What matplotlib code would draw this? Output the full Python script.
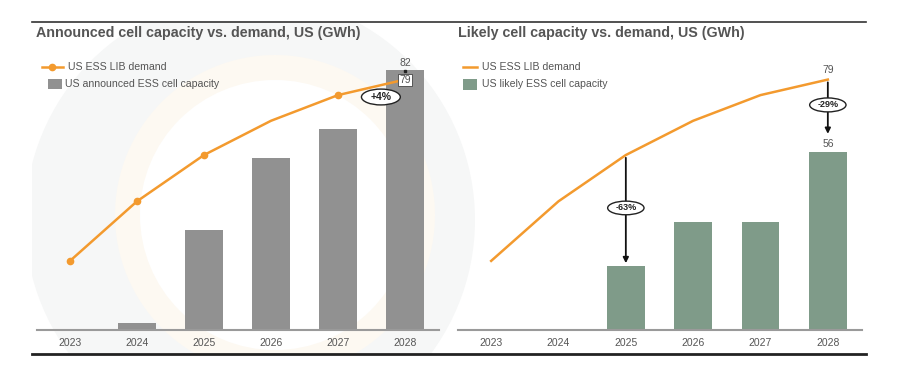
import matplotlib
matplotlib.use('Agg')
import matplotlib.pyplot as plt
from matplotlib.patches import Circle, Ellipse
from matplotlib.lines import Line2D

years = ['2023', '2024', '2025', '2026', '2027', '2028']
demand = [21.8, 40.6, 55.2, 66.0, 74.1, 79]
announced = [0.4, 2.2, 31.5, 54.2, 63.4, 82]
likely = [0.3, 0.3, 20.2, 34.2, 34.2, 56]

ORANGE = '#f39a2e'
GREY_BAR = '#919191'
GREEN_BAR = '#7f9b89'
TXT = '#555555'

plt.rcParams['font.family'] = ['Liberation Sans', 'DejaVu Sans']

fig = plt.figure(figsize=(9.11, 3.84), dpi=100)
W, H = 911, 384

# faint watermark circles behind the left panel
bg = fig.add_axes([0, 0, 1, 1], zorder=0)
bg.set_xlim(0, W)
bg.set_ylim(H, 0)
bg.axis('off')
bg.add_patch(Circle((250, 220), 225, color='#f6f7f7', lw=0))
bg.add_patch(Circle((275, 215), 160, color='#fdf9f2', lw=0))
bg.add_patch(Circle((275, 215), 135, color='white', lw=0))
bg.add_patch(plt.Rectangle((0, 0), 32, H, color='white', lw=0))
bg.add_patch(plt.Rectangle((866, 0), 50, H, color='white', lw=0))
bg.add_patch(plt.Rectangle((0, 355), W, 40, color='white', lw=0))
bg.add_patch(plt.Rectangle((0, 0), W, 21, color='white', lw=0))

# frame lines top and bottom
fig.add_artist(Line2D([32 / W, 866 / W], [1 - 21.5 / H, 1 - 21.5 / H], color='#333333', lw=1.2))
fig.add_artist(Line2D([32 / W, 866 / W], [1 - 354 / H, 1 - 354 / H], color='#222222', lw=2.0))

x = list(range(len(years)))
bottom = (H - 330) / H
height = 280 / H
ymax = 280 / 3.17


def setup(ax, title):
    ax.set_xlim(-0.5, 5.5)
    ax.set_ylim(0, ymax)
    for s in ['top', 'right', 'left']:
        ax.spines[s].set_visible(False)
    ax.spines['bottom'].set_color('#9a9a9a')
    ax.spines['bottom'].set_linewidth(1.5)
    ax.set_yticks([])
    ax.set_xticks(x)
    ax.set_xticklabels(years, fontsize=7.5, color=TXT)
    ax.tick_params(axis='x', length=0, pad=6)
    ax.patch.set_alpha(0)
    ax.text(0.0, 1.06, title, transform=ax.transAxes, fontsize=10.25,
            fontweight='bold', color=TXT, va='center', ha='left')


# left panel
ax1 = fig.add_axes([36.5 / W, bottom, 402 / W, height], zorder=2)
setup(ax1, 'Announced cell capacity vs. demand, US (GWh)')
ax1.bar(x, announced, width=0.56, color=GREY_BAR, zorder=2)
mk = [0, 1, 2, 4]
ax1.plot(x, demand, color=ORANGE, lw=1.8, zorder=3)
ax1.plot([x[i] for i in mk], [demand[i] for i in mk], 'o', color=ORANGE, ms=4.5, zorder=3)
ax1.text(5, announced[5] + 0.8, '82', ha='center', va='bottom', fontsize=7.5, color=TXT)
ax1.plot([5], [announced[5] - 0.3], 's', color='#222222', ms=1.5, zorder=4)
ax1.text(5, demand[5] - 0.2, '79', ha='center', va='center', fontsize=7.5, color=TXT, zorder=5,
         bbox=dict(boxstyle='square,pad=0.12', fc='white', ec='#444444', lw=0.6))
ax1.add_patch(Ellipse((4.64, 73.5), 0.58, 5.0, fc='white', ec='#222222', lw=1.0, zorder=5))
ax1.text(4.64, 73.5, '+4%', ha='center', va='center', fontsize=7.5, fontweight='bold',
         color='#222222', zorder=6)

# legend left
ax1.plot([-0.42, -0.11], [83, 83], color=ORANGE, lw=1.8)
ax1.plot([-0.265], [83], 'o', color=ORANGE, ms=4.5)
ax1.text(-0.03, 83, 'US ESS LIB demand', fontsize=7.6, color=TXT, va='center')
ax1.add_patch(plt.Rectangle((-0.33, 76.0), 0.21, 3.2, color=GREY_BAR, lw=0))
ax1.text(-0.07, 77.6, 'US announced ESS cell capacity', fontsize=7.6, color=TXT, va='center')

# right panel
ax2 = fig.add_axes([457.5 / W, bottom, 404 / W, height], zorder=2)
setup(ax2, 'Likely cell capacity vs. demand, US (GWh)')
ax2.bar(x, likely, width=0.56, color=GREEN_BAR, zorder=2)
ax2.plot(x, demand, color=ORANGE, lw=1.8, zorder=3)
ax2.text(5, demand[5] + 1.5, '79', ha='center', va='bottom', fontsize=7.5, color=TXT)
ax2.text(5, likely[5] + 1.2, '56', ha='center', va='bottom', fontsize=7.5, color=TXT)
ax2.annotate('', xy=(5, likely[5] + 5.0), xytext=(5, demand[5]),
             arrowprops=dict(arrowstyle='-|>', color='#111111', lw=1.3, mutation_scale=8), zorder=4)
ax2.annotate('', xy=(2, likely[2]), xytext=(2, demand[2]),
             arrowprops=dict(arrowstyle='-|>', color='#111111', lw=1.3, mutation_scale=8), zorder=4)
ax2.add_patch(Ellipse((5, 71), 0.54, 4.4, fc='white', ec='#222222', lw=1.0, zorder=5))
ax2.text(5, 71, '-29%', ha='center', va='center', fontsize=6.5, fontweight='bold',
         color='#222222', zorder=6)
ax2.add_patch(Ellipse((2, 38.5), 0.54, 4.3, fc='white', ec='#222222', lw=1.0, zorder=5))
ax2.text(2, 38.5, '-63%', ha='center', va='center', fontsize=6.5, fontweight='bold',
         color='#222222', zorder=6)

# legend right
ax2.plot([-0.42, -0.21], [83, 83], color=ORANGE, lw=1.8)
ax2.text(-0.14, 83, 'US ESS LIB demand', fontsize=7.6, color=TXT, va='center')
ax2.add_patch(plt.Rectangle((-0.42, 75.8), 0.21, 3.4, color=GREEN_BAR, lw=0))
ax2.text(-0.14, 77.6, 'US likely ESS cell capacity', fontsize=7.6, color=TXT, va='center')

fig.savefig('out.png', dpi=100, facecolor='white')
